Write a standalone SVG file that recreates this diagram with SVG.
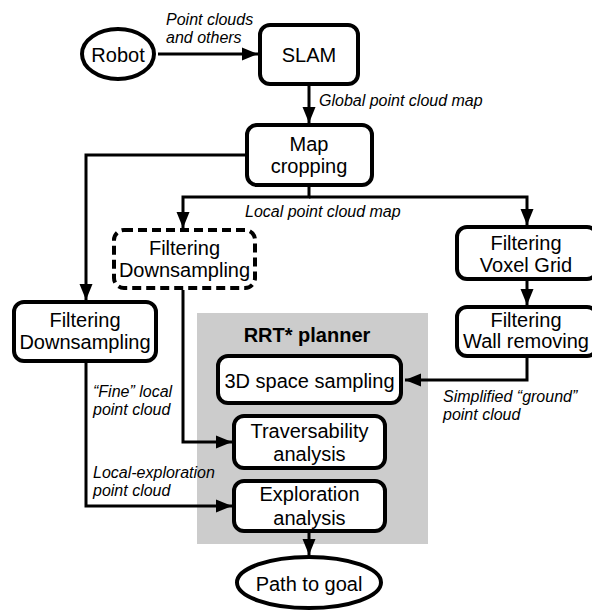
<svg xmlns="http://www.w3.org/2000/svg" width="592" height="611" viewBox="0 0 592 611">
<style>
.node{fill:#ffffff;stroke:#000000;stroke-width:4}
.dash{stroke-dasharray:9 5}
.t{font-family:"Liberation Sans",Arial,sans-serif;font-size:20px;fill:#000;text-anchor:middle}
.b{font-weight:bold}
.lab{font-family:"Liberation Sans",Arial,sans-serif;font-size:16px;font-style:italic;fill:#000}
.con{fill:none;stroke:#000;stroke-width:3;marker-end:url(#arr)}
</style>
<defs>
<marker id="arr" markerUnits="userSpaceOnUse" markerWidth="17" markerHeight="14" refX="16" refY="7" orient="auto">
<path d="M0,0.5 L16,7 L0,13.5 z" fill="#000"/>
</marker>
</defs>
<rect id="planner-bg" x="197" y="313" width="231" height="231" fill="#cccccc"/>
<g id="connectors">
<path class="con" d="M158,54 H258"/>
<path class="con" d="M309,86 V123"/>
<path class="con" d="M245,155 H86 V300"/>
<path class="con" d="M309,187 V197 H183 V228"/>
<path class="con" d="M309,197 H527 V225"/>
<path class="con" d="M527,281 V305"/>
<path class="con" d="M527,358 V380 H405"/>
<path class="con" d="M183,290 V442 H232"/>
<path class="con" d="M86,362 V506 H232"/>
<path class="con" d="M309,533 V555"/>
</g>
<g id="labels">
<text class="lab" x="166" y="25">Point clouds</text>
<text class="lab" x="166" y="43">and others</text>
<text class="lab" x="319" y="106">Global point cloud map</text>
<text class="lab" x="245" y="217">Local point cloud map</text>
<text class="lab" x="443" y="402">Simplified “ground”</text>
<text class="lab" x="443" y="420">point cloud</text>
<text class="lab" x="93" y="397">“Fine” local</text>
<text class="lab" x="93" y="415">point cloud</text>
<text class="lab" x="93" y="478">Local-exploration</text>
<text class="lab" x="93" y="496">point cloud</text>
</g>
<g id="robot">
<ellipse class="node" cx="118" cy="54" rx="36" ry="25"/>
<text class="t" x="118" y="62">Robot</text>
</g>
<g id="slam">
<rect class="node" x="260" y="25" width="98" height="59" rx="10"/>
<text class="t" x="309" y="62">SLAM</text>
</g>
<g id="map-cropping">
<rect class="node" x="247" y="125" width="125" height="60" rx="10"/>
<text class="t" x="309" y="151">Map</text>
<text class="t" x="309" y="173">cropping</text>
</g>
<g id="filter-down-dashed">
<rect class="node dash" x="114" y="230" width="141" height="58" rx="10"/>
<text class="t" x="184.5" y="255">Filtering</text>
<text class="t" x="184.5" y="277">Downsampling</text>
</g>
<g id="filter-down-left">
<rect class="node" x="14" y="302" width="142" height="59" rx="10"/>
<text class="t" x="85" y="327">Filtering</text>
<text class="t" x="85" y="349">Downsampling</text>
</g>
<g id="filter-voxel">
<rect class="node" x="457" y="227" width="140" height="52" rx="10"/>
<text class="t" x="526" y="250">Filtering</text>
<text class="t" x="526" y="272">Voxel Grid</text>
</g>
<g id="filter-wall">
<rect class="node" x="457" y="307" width="140" height="49" rx="10"/>
<text class="t" x="526" y="327">Filtering</text>
<text class="t" x="526" y="348">Wall removing</text>
</g>
<g id="planner-title">
<text class="t b" x="307" y="342">RRT* planner</text>
</g>
<g id="space-sampling">
<rect class="node" x="218" y="356" width="183" height="47" rx="10"/>
<text class="t" x="309.5" y="388">3D space sampling</text>
</g>
<g id="traversability">
<rect class="node" x="234" y="416" width="151" height="52" rx="10"/>
<text class="t" x="309.5" y="438">Traversability</text>
<text class="t" x="309.5" y="461">analysis</text>
</g>
<g id="exploration">
<rect class="node" x="234" y="481" width="151" height="50" rx="10"/>
<text class="t" x="309.5" y="501">Exploration</text>
<text class="t" x="309.5" y="525">analysis</text>
</g>
<g id="path-to-goal">
<ellipse class="node" cx="309" cy="582.5" rx="72" ry="25.5"/>
<text class="t" x="309" y="591">Path to goal</text>
</g>
</svg>
